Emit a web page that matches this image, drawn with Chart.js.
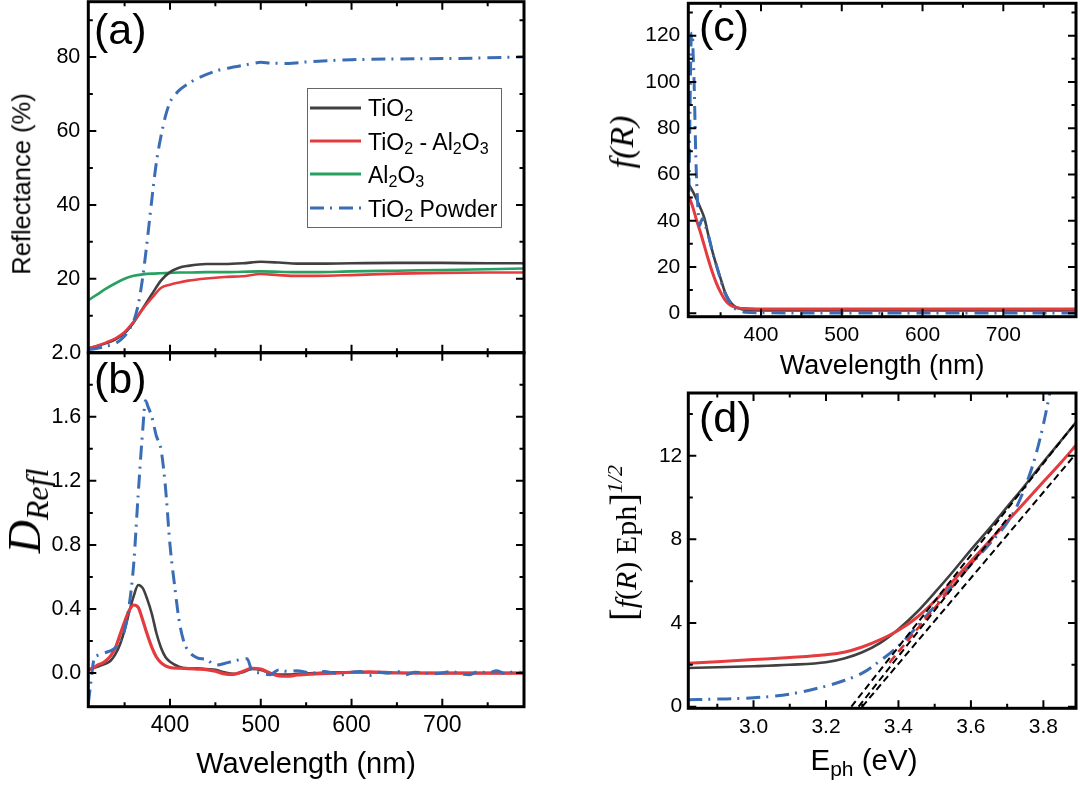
<!DOCTYPE html>
<html>
<head>
<meta charset="utf-8">
<script src="https://cdn.jsdelivr.net/npm/chart.js@4.4.1/dist/chart.umd.min.js"></script>
<style>
  html, body { margin: 0; padding: 0; background: #fff; }
  #wrap { position: relative; width: 1080px; height: 785px; overflow: hidden; font-family: "Liberation Sans", Arial, sans-serif; color: #000; }
  #wrap canvas { position: absolute; left: -40px; top: -40px; }
  .t { position: absolute; white-space: nowrap; line-height: 1; z-index: 5; }
  .plabel { font-size: 43px; }
  .serif { font-family: "Liberation Serif", "Times New Roman", serif; }
  .rot { transform: translate(-50%, -50%) rotate(-90deg); }
  .sb { font-size: 0.7em; position: relative; top: 0.27em; }
  #legend { position: absolute; left: 307px; top: 88px; width: 195px; height: 140px; box-sizing: border-box; border: 1.5px solid #666; z-index: 4; background: transparent; }
  .leg { font-size: 23px; }
  svg.sample { position: absolute; z-index: 5; }
</style>
</head>
<body>
<div id="wrap">
  <canvas id="cA" width="1160" height="865"></canvas>
  <canvas id="cB" width="1160" height="865"></canvas>
  <canvas id="cC" width="1160" height="865"></canvas>
  <canvas id="cD" width="1160" height="865"></canvas>

  <div class="t plabel" style="left:94px; top:8px;">(a)</div>
  <div class="t plabel" style="left:94px; top:357px;">(b)</div>
  <div class="t plabel" style="left:699px; top:5px;">(c)</div>
  <div class="t plabel" style="left:699px; top:396px;">(d)</div>

  <div id="legend"></div>
  <svg class="sample" style="left:310px; top:104.7px" width="51" height="6"><line x1="0" y1="3" x2="51" y2="3" stroke="#404040" stroke-width="3"/></svg>
  <svg class="sample" style="left:310px; top:138px" width="51" height="6"><line x1="0" y1="3" x2="51" y2="3" stroke="#e53b3f" stroke-width="3"/></svg>
  <svg class="sample" style="left:310px; top:171.3px" width="51" height="6"><line x1="0" y1="3" x2="51" y2="3" stroke="#27a15f" stroke-width="3"/></svg>
  <svg class="sample" style="left:310px; top:205.3px" width="51" height="6"><line x1="0" y1="3" x2="51" y2="3" stroke="#3a6db5" stroke-width="3" stroke-dasharray="14 6 2 7"/></svg>
  <div class="t leg" style="left:368px; top:97.2px;">TiO<span class="sb">2</span></div>
  <div class="t leg" style="left:368px; top:130.5px;">TiO<span class="sb">2</span> - Al<span class="sb">2</span>O<span class="sb">3</span></div>
  <div class="t leg" style="left:368px; top:163.8px;">Al<span class="sb">2</span>O<span class="sb">3</span></div>
  <div class="t leg" style="left:368px; top:197.8px;">TiO<span class="sb">2</span> Powder</div>

  <div class="t rot" style="left:21.5px; top:184px; font-size:25.5px;">Reflectance (%)</div>

  <div class="t serif rot" style="left:24.5px; top:511px; font-size:46px; font-style:italic;">D<span style="font-size:32px; position:relative; top:8px;">Refl</span></div>

  <div class="t serif rot" style="left:622px; top:142px; font-size:34px; font-style:italic;">f(R)</div>

  <div class="t serif rot" style="left:623px; top:543px; font-size:30px;"><span style="font-size:38px">[</span><i>f</i>(<i>R</i>) Eph<span style="font-size:38px">]</span><i style="font-size:22px; position:relative; top:-14px;">1/2</i></div>

  <div class="t" style="left:864px; top:745px; font-size:29.5px; transform:translateX(-50%);">E<span style="font-size:21px; position:relative; top:6px;">ph</span> (eV)</div>
</div>

<script>
const W = 1080, H = 785, OFF = 40;
const FONT = '"Liberation Sans", Arial, sans-serif';

const GRAY = '#404040', RED = '#e53b3f', GREEN = '#27a15f', BLUE = '#3a6db5';
const DASHDOT = [14, 6, 2, 7];

/* ---------- (a) reflectance ---------- */
const waveR = [310, 320, 330, 340, 350, 360, 370, 380, 390, 400, 410, 420, 440, 460, 480, 500, 520, 540, 560, 600, 650, 700, 750, 790];
const rTiO2 = [1.2, 1.8, 2.6, 3.6, 5.3, 8.2, 12.0, 15.8, 19.5, 21.8, 23.0, 23.5, 24.0, 24.0, 24.2, 24.6, 24.4, 24.1, 24.1, 24.2, 24.3, 24.3, 24.2, 24.2];
const rTiAl = [1.2, 1.9, 2.8, 3.9, 5.6, 8.4, 11.8, 14.8, 17.5, 18.4, 19.0, 19.5, 20.1, 20.5, 20.7, 21.3, 21.0, 20.8, 20.8, 21.0, 21.4, 21.6, 21.7, 21.7];
const rAl = [14.2, 15.8, 17.4, 18.8, 20.0, 20.8, 21.2, 21.4, 21.5, 21.6, 21.7, 21.7, 21.8, 21.8, 21.9, 22.0, 21.9, 21.8, 21.8, 22.0, 22.2, 22.4, 22.6, 22.8];
const wavePR = [310, 320, 330, 340, 350, 355, 360, 365, 370, 375, 380, 385, 390, 395, 400, 405, 410, 420, 430, 450, 470, 490, 500, 510, 530, 550, 600, 650, 700, 750, 790];
const rPowder = [0.8, 1.2, 1.8, 2.5, 4.5, 6.3, 8.5, 13.0, 20.5, 30.5, 41.5, 51.5, 58.5, 64.0, 67.8, 69.6, 71.0, 72.8, 74.2, 76.2, 77.3, 78.2, 78.6, 78.4, 78.3, 78.7, 79.3, 79.5, 79.6, 79.8, 80.1];

/* ---------- (b) D_Refl ---------- */
const waveD = [310, 315, 320, 325, 330, 335, 340, 345, 350, 355, 360, 365, 370, 375, 380, 385, 390, 395, 400, 410, 420, 430, 440, 450, 460, 470, 480, 490, 500, 510, 520, 530, 540, 560, 580, 600, 620, 650, 700, 750, 790];
const dTiO2 = [0.02, 0.03, 0.04, 0.05, 0.06, 0.08, 0.12, 0.18, 0.27, 0.38, 0.48, 0.55, 0.53, 0.46, 0.37, 0.25, 0.16, 0.10, 0.07, 0.04, 0.03, 0.03, 0.025, 0.02, 0.005, -0.005, 0.005, 0.025, 0.02, 0.0, -0.01, -0.01, -0.005, 0.0, 0.005, 0.005, 0.005, 0.0, 0.0, 0.0, 0.0];
const dTiAl = [0.02, 0.03, 0.05, 0.06, 0.08, 0.11, 0.16, 0.24, 0.32, 0.39, 0.425, 0.41, 0.33, 0.24, 0.16, 0.10, 0.065, 0.045, 0.035, 0.03, 0.028, 0.025, 0.022, 0.012, -0.005, -0.008, 0.01, 0.03, 0.025, 0.0, -0.018, -0.02, -0.012, -0.005, 0.0, 0.005, 0.008, 0.002, 0.0, 0.0, 0.0];
const wavePD = [310, 313, 316, 320, 325, 330, 335, 340, 345, 350, 355, 360, 365, 370, 373, 376, 380, 385, 390, 395, 400, 405, 410, 415, 420, 430, 440, 450, 460, 470, 478, 485, 490, 500, 510, 520, 530, 540, 550, 560, 570, 580, 590, 600, 610, 620, 630, 640, 650, 660, 670, 680, 690, 700, 710, 720, 730, 740, 750, 760, 770, 780, 790];
const dPowder = [-0.19, -0.05, 0.08, 0.11, 0.12, 0.13, 0.14, 0.16, 0.2, 0.27, 0.42, 0.68, 1.12, 1.52, 1.70, 1.66, 1.60, 1.48, 1.40, 1.16, 0.80, 0.55, 0.33, 0.2, 0.14, 0.095, 0.085, 0.05, 0.06, 0.075, 0.085, 0.09, 0.02, 0.0, -0.01, 0.02, 0.01, 0.015, 0.005, 0.0, 0.01, 0.0, -0.01, 0.005, 0.01, -0.015, 0.005, 0.0, 0.01, -0.01, 0.005, 0.0, -0.005, 0.0, 0.01, -0.005, -0.01, 0.01, 0.0, 0.015, -0.005, 0.01, 0.0];

/* ---------- (c) f(R) ---------- */
const waveF = [310, 315, 320, 325, 330, 335, 340, 345, 350, 355, 360, 365, 370, 375, 380, 390, 400, 450, 500, 550, 600, 650, 700, 750, 790];
const fTiO2 = [56, 53, 49.5, 45.5, 41, 33.5, 26.5, 20.5, 15, 9.5, 6, 3.7, 2.5, 1.8, 1.5, 1.3, 1.2, 1.2, 1.2, 1.2, 1.2, 1.2, 1.2, 1.2, 1.2];
const fTiAl = [51, 46.5, 40.5, 35, 29, 23, 17.5, 12.8, 9, 6, 4, 3, 2.4, 2.1, 2.0, 1.9, 1.8, 1.8, 1.8, 1.8, 1.8, 1.8, 1.8, 1.8, 1.8];
const waveFP = [310, 311, 312, 313, 314, 315, 316, 317, 318, 319, 320, 322, 324, 326, 328, 330, 335, 340, 345, 350, 355, 360, 365, 370, 375, 380, 400, 450, 500, 550, 600, 650, 700, 750, 790];
const fPowder = [40, 58, 85, 110, 121, 121, 112, 102, 88, 72, 60, 45, 38, 40, 41, 39, 33.5, 26.5, 20.5, 14.5, 9, 5.5, 3, 1.5, 0.8, 0.4, 0.2, 0.1, 0.1, 0.1, 0.1, 0.1, 0.1, 0.1, 0.1];

/* ---------- (d) Tauc ---------- */
const ePh = [2.82, 2.9, 3.0, 3.1, 3.2, 3.25, 3.3, 3.35, 3.4, 3.45, 3.5, 3.55, 3.6, 3.65, 3.7, 3.75, 3.8, 3.85, 3.89];
const tTiO2 = [1.85, 1.88, 1.93, 2.0, 2.12, 2.3, 2.6, 3.05, 3.7, 4.5, 5.45, 6.45, 7.5, 8.5, 9.55, 10.6, 11.7, 12.75, 13.6];
const tTiAl = [2.08, 2.15, 2.25, 2.35, 2.48, 2.6, 2.85, 3.2, 3.65, 4.25, 5.05, 6.0, 6.95, 7.9, 8.85, 9.8, 10.75, 11.7, 12.5];
const ePhP = [2.82, 2.9, 3.0, 3.1, 3.2, 3.25, 3.3, 3.35, 3.4, 3.45, 3.5, 3.55, 3.6, 3.65, 3.7, 3.73, 3.76, 3.78, 3.8, 3.82, 3.84];
const tPowder = [0.33, 0.36, 0.42, 0.6, 0.98, 1.25, 1.6, 2.2, 2.9, 3.8, 4.8, 5.8, 6.8, 7.75, 8.8, 9.7, 11.0, 12.1, 13.5, 15.2, 17.0];
// linear fits (black dashed) and the short red dashed fit
const fitTiO2X = [3.27, 3.885], fitTiO2Y = [0, 13.5];
const fitPowderX = [3.29, 3.71], fitPowderY = [0, 9.2];
const fitTiAlX = [3.30, 3.895], fitTiAlY = [0, 12.2];
const fitRedX = [3.375, 3.70], fitRedY = [2.1, 8.9];

/* ---------- ticks ---------- */
const waveMajor = [400, 500, 600, 700], waveMinor = [350, 450, 550, 650, 750];
const reflMajor = [20, 40, 60, 80], reflMinor = [10, 30, 50, 70, 90];
const dMajor = [0, 0.4, 0.8, 1.2, 1.6, 2.0], dMinor = [0.2, 0.6, 1.0, 1.4, 1.8];
const fMajor = [0, 20, 40, 60, 80, 100, 120], fMinor = [10, 30, 50, 70, 90, 110, 130];
const eMajor = [3.0, 3.2, 3.4, 3.6, 3.8], eMinor = [2.9, 3.1, 3.3, 3.5, 3.7];
const tMajor = [0, 4, 8, 12], tMinor = [2, 6, 10, 14];

const pts = (xs, ys) => xs.map((x, i) => ({ x, y: ys[i] }));

function line(label, xs, ys, color, width, extra) {
  return Object.assign({
    label, data: pts(xs, ys), borderColor: color, borderWidth: width,
    pointRadius: 0, fill: false, cubicInterpolationMode: 'monotone'
  }, extra || {});
}
const straight = { cubicInterpolationMode: 'default', tension: 0 };

// frame + inward ticks on all four sides
const framePlugin = {
  id: 'frame',
  afterDatasetsDraw(chart, args, o) {
    const { ctx, chartArea: a } = chart;
    const xs = chart.scales.x, ys = chart.scales.y;
    ctx.save();
    ctx.strokeStyle = '#000';
    ctx.lineWidth = 2;
    const xt = (vals, len) => vals.forEach(v => {
      const p = xs.getPixelForValue(v);
      ctx.beginPath();
      ctx.moveTo(p, a.bottom); ctx.lineTo(p, a.bottom - len);
      ctx.moveTo(p, a.top); ctx.lineTo(p, a.top + len);
      ctx.stroke();
    });
    const yt = (vals, len) => vals.forEach(v => {
      const p = ys.getPixelForValue(v);
      ctx.beginPath();
      ctx.moveTo(a.left, p); ctx.lineTo(a.left + len, p);
      ctx.moveTo(a.right, p); ctx.lineTo(a.right - len, p);
      ctx.stroke();
    });
    xt(o.xMajor, 8); xt(o.xMinor, 4.5);
    yt(o.yMajor, 8); yt(o.yMinor, 4.5);
    ctx.lineWidth = 3;
    ctx.strokeRect(a.left, a.top, a.right - a.left, a.bottom - a.top);
    ctx.restore();
  }
};

// box = wanted plot area in page pixels; canvases sit OFF px outside the page on every side
function panel(id, box, c) {
  return new Chart(document.getElementById(id), {
    type: 'line',
    data: { datasets: c.datasets },
    options: {
      responsive: false, animation: false, events: [],
      layout: { padding: {
        left: box.l + OFF - c.yW, top: box.t + OFF,
        right: W - box.r + OFF, bottom: H - box.b - c.xH + OFF } },
      plugins: {
        legend: { display: false }, tooltip: { enabled: false },
        frame: { xMajor: c.xMajor, xMinor: c.xMinor, yMajor: c.yMajor, yMinor: c.yMinor }
      },
      scales: {
        x: {
          type: 'linear', min: c.xMin, max: c.xMax,
          grid: { display: false, drawTicks: false }, border: { display: false },
          afterFit: s => { s.height = c.xH; },
          afterBuildTicks: s => { s.ticks = c.xMajor.map(v => ({ value: v })); },
          ticks: { display: c.xShow, padding: c.xPad, color: '#000', autoSkip: false, maxRotation: 0,
                   font: { family: FONT, size: c.xFont }, callback: c.xFmt },
          title: c.xTitle || { display: false }
        },
        y: {
          type: 'linear', min: c.yMin, max: c.yMax,
          grid: { display: false, drawTicks: false }, border: { display: false },
          afterFit: s => { s.width = c.yW; },
          afterBuildTicks: s => { s.ticks = c.yLabels.map(v => ({ value: v })); },
          ticks: { padding: c.yPad, color: '#000', autoSkip: false,
                   font: { family: FONT, size: c.yFont }, callback: c.yFmt },
          title: { display: false }
        }
      }
    },
    plugins: [framePlugin]
  });
}

const intFmt = v => String(Math.round(v));
const oneFmt = v => (Math.round(v * 10) / 10).toFixed(1);

// (a)
panel('cA', { l: 88.3, t: 1.7, r: 524, b: 352.7 }, {
  yW: 86, xH: 0, xMin: 310, xMax: 790, yMin: 0, yMax: 95,
  xMajor: waveMajor, xMinor: waveMinor, yMajor: reflMajor, yMinor: reflMinor, yLabels: reflMajor,
  xShow: false, xPad: 0, xFont: 23, xFmt: intFmt,
  yPad: 8, yFont: 21.5, yFmt: intFmt,
  datasets: [
    line('TiO2 Powder', wavePR, rPowder, BLUE, 3, { borderDash: DASHDOT }),
    line('TiO2 - Al2O3', waveR, rTiAl, RED, 2.6),
    line('TiO2', waveR, rTiO2, GRAY, 2.6),
    line('Al2O3', waveR, rAl, GREEN, 2.6)
  ]
});

// (b)
panel('cB', { l: 88.3, t: 352.7, r: 524, b: 706.7 }, {
  yW: 86, xH: 78, xMin: 310, xMax: 790, yMin: -0.21, yMax: 2.0,
  xMajor: waveMajor, xMinor: waveMinor, yMajor: dMajor, yMinor: dMinor, yLabels: dMajor,
  xShow: true, xPad: 5.5, xFont: 23, xFmt: intFmt,
  yPad: 7, yFont: 21.5, yFmt: oneFmt,
  xTitle: { display: true, text: 'Wavelength (nm)', color: '#000', font: { family: FONT, size: 29 }, padding: { top: 0, bottom: 2.5 } },
  datasets: [
    line('TiO2 Powder', wavePD, dPowder, BLUE, 3, { borderDash: DASHDOT }),
    line('TiO2 - Al2O3', waveD, dTiAl, RED, 3.2),
    line('TiO2', waveD, dTiO2, GRAY, 2.6)
  ]
});

// (c)
panel('cC', { l: 688.3, t: 3.3, r: 1076, b: 316.7 }, {
  yW: 86, xH: 70, xMin: 310, xMax: 790, yMin: -1.5, yMax: 134,
  xMajor: waveMajor, xMinor: waveMinor, yMajor: fMajor, yMinor: fMinor, yLabels: fMajor,
  xShow: true, xPad: 5.5, xFont: 21, xFmt: intFmt,
  yPad: 8, yFont: 21, yFmt: intFmt,
  xTitle: { display: true, text: 'Wavelength (nm)', color: '#000', font: { family: FONT, size: 27 }, padding: { top: 0, bottom: 4 } },
  datasets: [
    line('TiO2 Powder', waveFP, fPowder, BLUE, 3, { borderDash: DASHDOT }),
    line('TiO2 - Al2O3', waveF, fTiAl, RED, 3),
    line('TiO2', waveF, fTiO2, GRAY, 2.6)
  ]
});

// (d)
panel('cD', { l: 688.3, t: 393, r: 1076, b: 708.3 }, {
  yW: 86, xH: 76.7, xMin: 2.82, xMax: 3.89, yMin: -0.08, yMax: 15,
  xMajor: eMajor, xMinor: eMinor, yMajor: tMajor, yMinor: tMinor, yLabels: tMajor,
  xShow: true, xPad: 6.2, xFont: 21, xFmt: oneFmt,
  yPad: 6, yFont: 21, yFmt: intFmt,
  datasets: [
    line('fit TiO2', fitTiO2X, fitTiO2Y, '#000', 2, Object.assign({ borderDash: [7, 4] }, straight)),
    line('fit Powder', fitPowderX, fitPowderY, '#000', 2, Object.assign({ borderDash: [7, 4] }, straight)),
    line('fit TiO2 - Al2O3', fitTiAlX, fitTiAlY, '#000', 2, Object.assign({ borderDash: [7, 4] }, straight)),
    line('fit red', fitRedX, fitRedY, '#d9302f', 2.6, Object.assign({ borderDash: [9, 5] }, straight)),
    line('TiO2 Powder', ePhP, tPowder, BLUE, 3, { borderDash: DASHDOT }),
    line('TiO2 - Al2O3', ePh, tTiAl, RED, 3),
    line('TiO2', ePh, tTiO2, GRAY, 2.6)
  ]
});
</script>
</body>
</html>
